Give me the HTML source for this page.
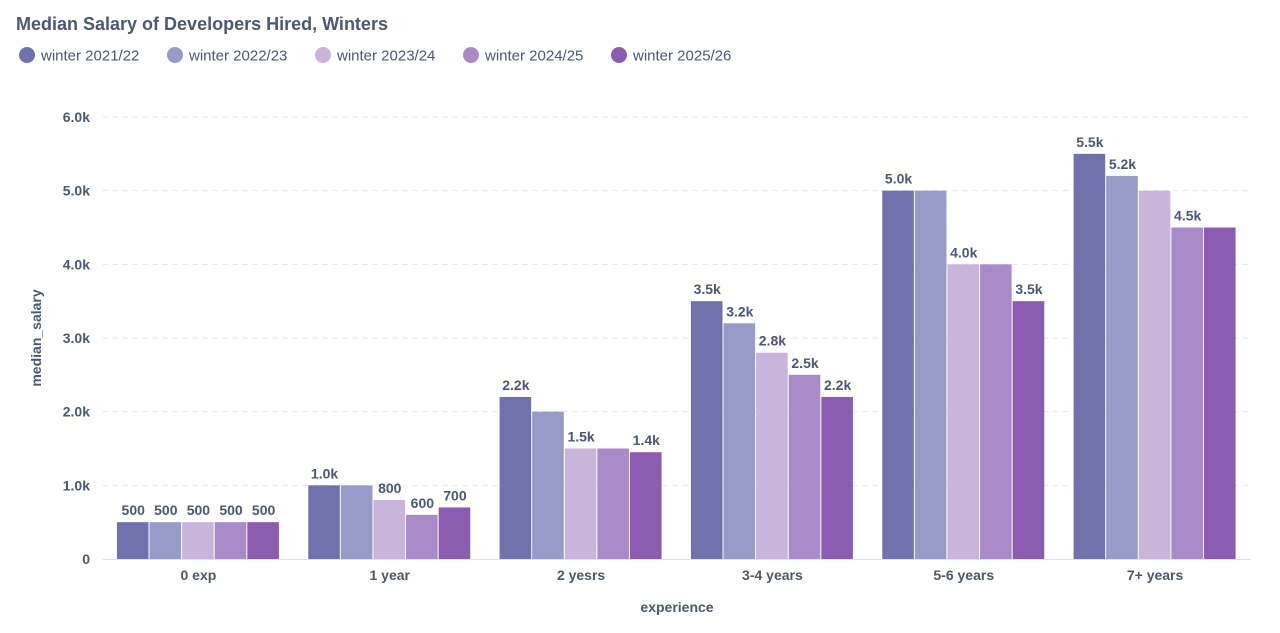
<!DOCTYPE html>
<html><head><meta charset="utf-8"><style>
body{margin:0;background:#fff;font-family:"Liberation Sans",sans-serif;}
#wrap{position:relative;width:1280px;height:633px;overflow:hidden;}
.t{font-weight:bold;fill:#4c5773;}
</style></head><body>
<div id="wrap">
<svg id="chart" width="1280" height="633">
<text x="16" y="30" font-size="18" class="t">Median Salary of Developers Hired, Winters</text>
<g id="legend"></g>
<g id="grid"></g>
<g id="bars"></g>
<g id="xaxis"></g>
<text x="677" y="612" font-size="14" text-anchor="middle" class="t">experience</text>
<text transform="translate(41,338) rotate(-90)" font-size="14" text-anchor="middle" class="t">median_salary</text>
</svg>
</div>
<script>
const categories=["0 exp","1 year","2 yesrs","3-4 years","5-6 years","7+ years"];
const seriesNames=["winter 2021/22","winter 2022/23","winter 2023/24","winter 2024/25","winter 2025/26"];
const s1=[500,1000,2200,3500,5000,5500];
const s2=[500,1000,2000,3200,5000,5200];
const s3=[500,800,1500,2800,4000,5000];
const s4=[500,600,1500,2500,4000,4500];
const s5=[500,700,1450,2200,3500,4500];
const labels1=["500","1.0k","2.2k","3.5k","5.0k","5.5k"];
const labels2=["500","","","3.2k","","5.2k"];
const labels3=["500","800","1.5k","2.8k","4.0k",""];
const labels4=["500","600","","2.5k","","4.5k"];
const labels5=["500","700","1.4k","2.2k","3.5k",""];
const yTicks=[0,1000,2000,3000,4000,5000,6000];
const yTickLabels=["0","1.0k","2.0k","3.0k","4.0k","5.0k","6.0k"];
const colors=["#7172ad","#989bc8","#c9b5dc","#a98bc9","#8b5cb0"];
const series=[s1,s2,s3,s4,s5], labels=[labels1,labels2,labels3,labels4,labels5];
const NS="http://www.w3.org/2000/svg";
const x0=102.75,x1=1250.75,yBase=559,yTop=117,yMax=6000;
const band=(x1-x0)/categories.length, inner=163, bw=inner/5;
const y=v=>yBase-(v/yMax)*(yBase-yTop);
const bx=(i,s)=>x0+i*band+(band-inner)/2+s*bw;
function mk(tag,attrs,parent){const e=document.createElementNS(NS,tag);for(const k in attrs)e.setAttribute(k,attrs[k]);parent.appendChild(e);return e;}
const grid=document.getElementById('grid');
yTicks.forEach((t,i)=>{
 if(t>0){const l=mk('line',{x1:x0,x2:x1,y1:y(t),y2:y(t),stroke:'#e3e5ea','stroke-dasharray':'5,5'},grid);
 
 }
 const tx=mk('text',{x:90,y:y(t)+5,'font-size':14,'text-anchor':'end',class:'t'},grid);
 tx.textContent=yTickLabels[i];
 
 
});
const bars=document.getElementById('bars');
series.forEach((s,si)=>{s.forEach((v,i)=>{
 const r=mk('rect',{x:bx(i,si),y:y(v),width:bw-1,height:yBase-y(v),fill:colors[si]},bars);
 
 
 if(labels[si][i]){const t=mk('text',{x:bx(i,si)+bw/2,y:y(v)-7,'font-size':14,'text-anchor':'middle',class:'t'},bars);
 t.textContent=labels[si][i];
 
 }
});});
const xa=document.getElementById('xaxis');
const ax=mk('line',{x1:x0,x2:x1,y1:yBase+0.5,y2:yBase+0.5,stroke:'#dfe2e7'},xa);


categories.forEach((c,i)=>{
 const t=mk('text',{x:x0+i*band+band/2,y:580,'font-size':14,'text-anchor':'middle',class:'t'},xa);
 t.textContent=c;
 
 
});
const lg=document.getElementById('legend');
const lx=[18,166,314,462,610];
seriesNames.forEach((n,i)=>{
 const g=mk('g',{},lg);
 
 
 mk('circle',{cx:lx[i]+9,cy:55,r:8,fill:colors[i]},g);
 const t=mk('text',{x:lx[i]+23,y:60.5,'font-size':15,fill:'#4c5773'},g);
 t.textContent=n;
});
</script>
</body></html>
